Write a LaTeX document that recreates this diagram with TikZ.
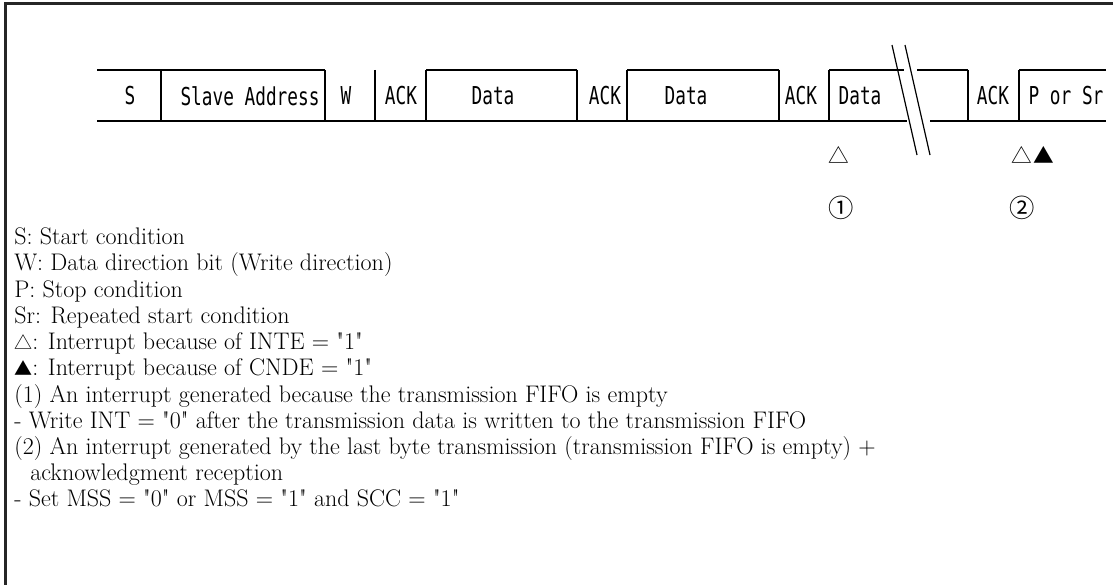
\documentclass[tikz,border=0pt]{standalone}
\usepackage{fontspec}
\setmainfont{Latin Modern Roman}[Ligatures=TeXOff]
\newfontfamily\fieldfont[FakeStretch=0.72]{DejaVu Sans Mono}
\newfontfamily\symfont{Noto Sans CJK JP}
\usetikzlibrary{positioning}

\begin{document}
\begin{tikzpicture}[
    x=0.75pt, y=-0.75pt,
    field/.style={font=\fieldfont\fontsize{18.5}{20}\selectfont, inner sep=0pt},
    sig/.style={line width=0.9pt},
    border/.style={line width=2.2pt, black!85},
    intmark/.style={font=\symfont\fontsize{15.5}{18}\selectfont, inner sep=0pt},
    intnum/.style={font=\symfont\fontsize{19}{21}\selectfont, inner sep=0pt},
    legend/.style={font=\fontsize{18}{20}\selectfont, inner sep=0pt, anchor=base west}
]
\useasboundingbox (0,0) rectangle (1113,585);

% Frame
\draw[border] (5.5,585) -- (5.5,3.5) -- (1113,3.5);

% Field labels
\node[field] (lblS) at (130,96) {S};
\node[field] (lblAddr) at (250,96) {Slave Address};
\node[field] (lblW) at (346,96) {W};
\node[field] (lblAck1) at (401,96) {ACK};
\node[field] (lblData1) at (493,96) {Data};
\node[field] (lblAck2) at (605,96) {ACK};
\node[field] (lblData2) at (686,96) {Data};
\node[field] (lblAck3) at (801,96) {ACK};
\node[field] (lblData3) at (860,96) {Data};
\node[field] (lblAck4) at (993,96) {ACK};
\node[field] (lblPSr) at (1066,96) {P or Sr};

% Top and bottom edges
\draw[sig] (97,70) -- (325,70);
\draw[sig] (426,70) -- (577,70);
\draw[sig] (627,70) -- (779,70);
\draw[sig] (829,70) -- (904,70);
\draw[sig] (917,70) -- (968,70);
\draw[sig] (1019,70) -- (1106,70);
\draw[sig] (97,121) -- (907,121);
\draw[sig] (930,121) -- (1106,121);

% Field borders
\foreach \xb in {161,325,375,426,577,627,779,829,968,1019}
  \draw[sig] (\xb,70) -- (\xb,121);

% Break marks
\draw[sig] (892,45) -- (917,155);
\draw[sig] (905,45) -- (930,155);

% Interrupt marks
\node[intmark] (intA) at (839,155) {△};
\node[intmark] (intB) at (1022,155) {△};
\node[intmark] (intC) at (1044,155) {▲};
\node[intnum] (numA) at (841,208) {①};
\node[intnum] (numB) at (1022,208) {②};

% Legend
\node[legend] (keyS) at (14,244) {S: Start condition};
\node[legend] (keyW) at (14,270) {W: Data direction bit (Write direction)};
\node[legend] (keyP) at (14,297) {P: Stop condition};
\node[legend] (keySr) at (14,323) {Sr: Repeated start condition};
\node[legend] (keyInte) at (14,349) {{\symfont\fontsize{13.5}{15}\selectfont △}: Interrupt because of INTE = "1"};
\node[legend] (keyCnde) at (14,375) {{\symfont\fontsize{13.5}{15}\selectfont ▲}: Interrupt because of CNDE = "1"};
\node[legend] (noteA) at (14,402) {(1) An interrupt generated because the transmission FIFO is empty};
\node[legend] (noteA2) at (14,428) {- Write INT = "0" after the transmission data is written to the transmission FIFO};
\node[legend] (noteB) at (14,454) {(2) An interrupt generated by the last byte transmission (transmission FIFO is empty) +};
\node[legend] (noteB1) at (30,480) {acknowledgment reception};
\node[legend] (noteB2) at (14,506) {- Set MSS = "0" or MSS = "1" and SCC = "1"};

\end{tikzpicture}
\end{document}
